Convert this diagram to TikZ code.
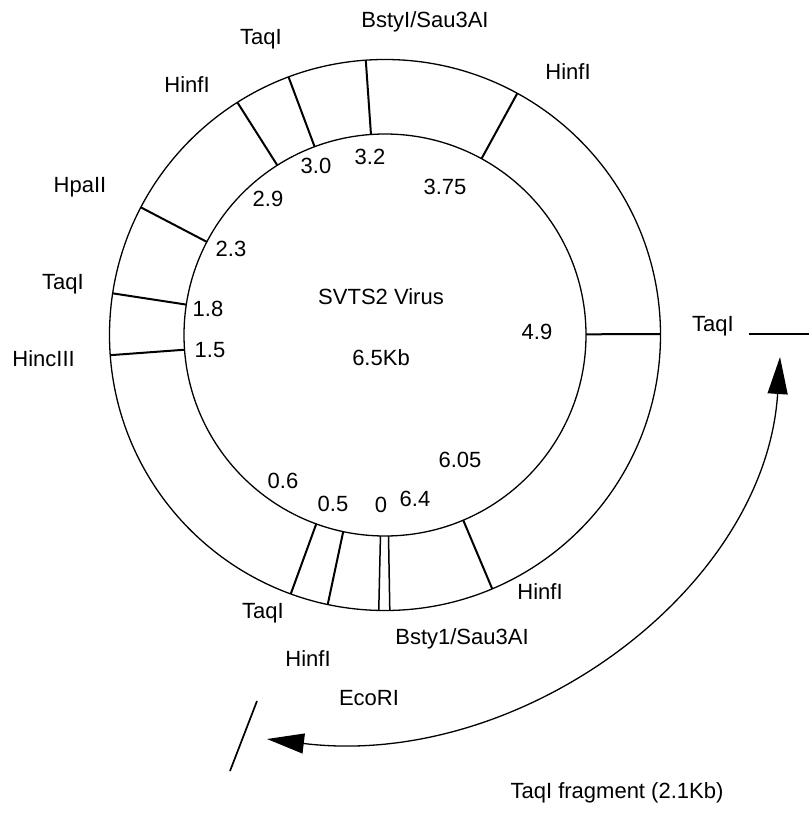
\documentclass[tikz,border=0pt]{standalone}
\usepackage{fontspec}
\setmainfont{Liberation Sans}
\usetikzlibrary{arrows.meta}
\begin{document}
\begin{tikzpicture}[x=1pt,y=-1pt,
  lbl/.style={font=\fontsize{22}{26}\selectfont, inner sep=0pt},
  ring/.style={line width=1.3pt},
  cut/.style={line width=2pt},
  thincut/.style={line width=1.5pt},
  >={Triangle[length=37pt,width=20pt]}]
\useasboundingbox (0,0) rectangle (809,816);
\coordinate (c) at (385,335);
% rings
\draw[ring] (c) circle[radius=275.5pt];
\draw[ring] (c) circle[radius=201pt];
% cut sites
\foreach \a in {94,110.5,122.4,152.4,171.3,184.2,250,258,292.9,0.2,61.3}
  \draw[cut] ([shift={(c)}]\a:201pt) -- ([shift={(c)}]\a:275.5pt);
\foreach \a in {268.7,271}
  \draw[thincut] ([shift={(c)}]\a:201pt) -- ([shift={(c)}]\a:275.5pt);
% enzyme labels
\node[lbl] (bstyTop) at (425,22) {BstyI/Sau3AI};
\node[lbl] (taqA) at (261,39) {TaqI};
\node[lbl] (hinfA) at (187,85) {HinfI};
\node[lbl] (hinfB) at (568,72) {HinfI};
\node[lbl] (hpa) at (80,187) {HpaII};
\node[lbl] (taqB) at (63,284) {TaqI};
\node[lbl,anchor=east] (hinc) at (75,359) {HincIII};
\node[lbl] (taqC) at (263,613) {TaqI};
\node[lbl] (hinfC) at (540,592) {HinfI};
\node[lbl] (bstyBot) at (462,639) {Bsty1/Sau3AI};
\node[lbl] (hinfD) at (308,659) {HinfI};
\node[lbl] (eco) at (369,698) {EcoRI};
\node[lbl] (taqR) at (713,326) {TaqI};
\node[lbl] (frag) at (617,793) {TaqI fragment (2.1Kb)};
% positions
\node[lbl] (p32) at (370,157) {3.2};
\node[lbl] (p30) at (316,166) {3.0};
\node[lbl] (p29) at (268,199) {2.9};
\node[lbl] (p375) at (445,187) {3.75};
\node[lbl] (p23) at (231,249) {2.3};
\node[lbl] (p18) at (208,309) {1.8};
\node[lbl] (p15) at (210,350) {1.5};
\node[lbl] (p49) at (537,332) {4.9};
\node[lbl] (p605) at (460,460) {6.05};
\node[lbl] (p06) at (283,481) {0.6};
\node[lbl] (p05) at (333,504) {0.5};
\node[lbl] (p0) at (381,505) {0};
\node[lbl] (p64) at (415,499) {6.4};
% centre
\node[lbl] (name) at (381,297) {SVTS2 Virus};
\node[lbl] (size) at (381,358) {6.5Kb};
% fragment ends
\coordinate (rA) at (749,334);
\coordinate (rB) at (809,334);
\draw[cut] (rA) -- (rB);
\coordinate (sA) at (257,701);
\coordinate (sB) at (230,771);
\draw[line width=1.7pt] (sA) -- (sB);
% fragment arrow
\coordinate (aA) at (780,357);
\coordinate (aB) at (267,739);
\draw[line width=1.3pt,<->] (aA) .. controls (765,590) and (520,770) .. (aB);
\end{tikzpicture}
\end{document}
